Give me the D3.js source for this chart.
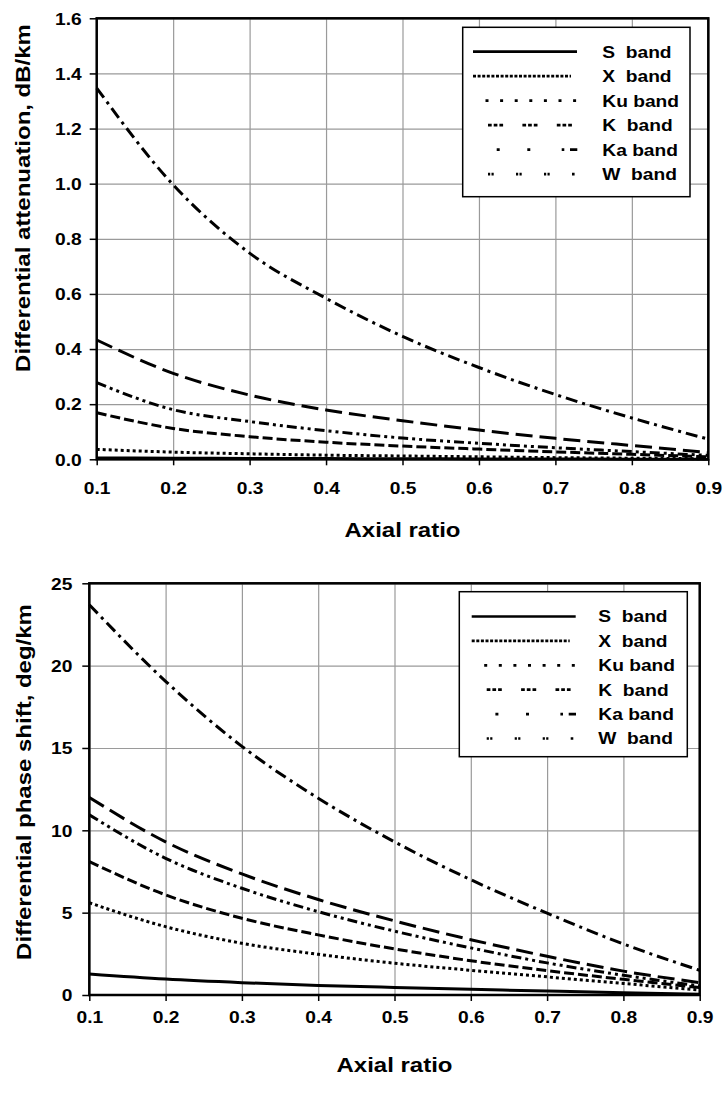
<!DOCTYPE html>
<html><head><meta charset="utf-8">
<script src="https://cdn.jsdelivr.net/npm/d3@7"></script>
<style>
html,body{margin:0;padding:0;background:#fff;}
svg{display:block;}
text{font-family:"Liberation Sans",Arial,sans-serif;font-weight:bold;fill:#000;white-space:pre;}
</style>
</head><body>
<svg id="c" width="725" height="1113"></svg>
<script>
// ---------------- data ----------------
const axialRatio = [0.1, 0.2, 0.3, 0.4, 0.5, 0.6, 0.7, 0.8, 0.9];
const bands = ["S", "X", "Ku", "K", "Ka", "W"];
const legendLabels = ["S  band", "X  band", "Ku band", "K  band", "Ka band", "W  band"];

// Differential attenuation, dB/km
const attS  = [0.005, 0.004, 0.003, 0.0025, 0.002, 0.0015, 0.001, 0.0006, 0.0003];
const attX  = [0.036, 0.026, 0.020, 0.015, 0.012, 0.009, 0.006, 0.004, 0.002];
const attKu = [0.169, 0.112, 0.082, 0.062, 0.048, 0.037, 0.027, 0.018, 0.009];
const attK  = [0.278, 0.180, 0.137, 0.104, 0.077, 0.058, 0.042, 0.028, 0.014];
const attKa = [0.433, 0.312, 0.233, 0.179, 0.140, 0.106, 0.076, 0.050, 0.025];
const attW  = [1.347, 0.996, 0.748, 0.584, 0.446, 0.333, 0.235, 0.150, 0.073];

// Differential phase shift, deg/km
const phS  = [1.28, 0.97, 0.75, 0.58, 0.46, 0.35, 0.24, 0.14, 0.05];
const phX  = [5.6, 4.15, 3.14, 2.47, 1.93, 1.50, 1.10, 0.70, 0.30];
const phKu = [8.1, 6.08, 4.66, 3.65, 2.80, 2.08, 1.48, 0.95, 0.45];
const phK  = [10.94, 8.3, 6.48, 5.06, 3.88, 2.86, 1.95, 1.20, 0.55];
const phKa = [12.0, 9.3, 7.35, 5.80, 4.50, 3.36, 2.35, 1.45, 0.75];
const phW  = [23.7, 19.05, 15.1, 11.95, 9.30, 7.0, 4.97, 3.10, 1.50];

const xTickValues = [0.1, 0.2, 0.3, 0.4, 0.5, 0.6, 0.7, 0.8, 0.9];
const yTicksAtt = [0, 0.2, 0.4, 0.6, 0.8, 1.0, 1.2, 1.4, 1.6];
const yTicksPhase = [0, 5, 10, 15, 20, 25];
const xTitle = "Axial ratio";
const yTitleAtt = "Differential attenuation, dB/km";
const yTitlePhase = "Differential phase shift, deg/km";

// ---------------- styles ----------------
const SX = 1.2; // horizontal text stretch of the original
const curveDash = {S: null, X: "3,3", Ku: "10,4", K: "10,4,3,4,3,4", Ka: "17,7", W: "12,5,3,5"};
const legendSample = {
  S:  {off: 0,    len: 104,  dash: null},
  X:  {off: 0,    len: 98,   dash: "3,1.6"},
  Ku: {off: 12.5, len: 90.6, dash: "3,11.6"},
  K:  {off: 15,   len: 84,   dash: "3.7,2,3.7,2,3.7,19.3"},
  Ka: {off: 23.7, len: 80.6, dash: "3,27.6,3,31.4,2.6,5.7,7.3,100"},
  W:  {off: 15,   len: 86.6, dash: "2.2,1.3,2.2,22.3,2.2,1.3,2.2,22.3,2.2,1.3,2.2,22.3,2.6,100"}
};

const svg = d3.select("#c");

function sText(g, s, x, y, size, anchor, rot) {
  const gg = g.append("g").attr("transform",
    `translate(${x},${y})` + (rot ? ` rotate(${rot})` : "") + ` scale(${SX},1)`);
  gg.append("text").attr("text-anchor", anchor).style("font-size", size + "px").text(s);
  return gg;
}

function drawChart(cfg) {
  const g = svg.append("g");
  const x = d3.scaleLinear().domain([0.1, 0.9]).range([cfg.left, cfg.right]);
  const y = d3.scaleLinear().domain(cfg.yDomain).range([cfg.bottom, cfg.top]);
  const W = cfg.right - cfg.left, H = cfg.bottom - cfg.top;

  // grid
  const gx = g.append("g").attr("transform", `translate(0,${cfg.top})`)
    .call(d3.axisBottom(x).tickValues(xTickValues).tickSize(H).tickFormat(""));
  const gy = g.append("g").attr("transform", `translate(${cfg.left},0)`)
    .call(d3.axisLeft(y).tickValues(cfg.yTicks).tickSize(-W).tickFormat(""));
  [gx, gy].forEach(a => {
    a.select(".domain").remove();
    a.selectAll("line").attr("stroke", "#9a9a9a").attr("stroke-width", 1.2);
  });

  // curves
  const line = d3.line().x(d => x(d[0])).y(d => y(d[1])).curve(d3.curveMonotoneX);
  cfg.series.forEach((vals, i) => {
    const b = bands[i];
    g.append("path")
      .datum(axialRatio.map((r, j) => [r, vals[j]]))
      .attr("d", line)
      .attr("fill", "none")
      .attr("stroke", "#000")
      .attr("stroke-width", 3)
      .attr("stroke-dasharray", curveDash[b]);
  });

  // axes ticks + labels
  const ax = g.append("g").attr("transform", `translate(0,${cfg.bottom})`)
    .call(d3.axisBottom(x).tickValues(xTickValues).tickSize(6).tickFormat(d3.format(".1f")));
  ax.select(".domain").remove();
  ax.selectAll("line").attr("stroke", "#000").attr("stroke-width", 1.5);
  ax.selectAll("text").attr("y", cfg.xLabelDy).attr("dy", 0)
    .attr("transform", `scale(${SX},1)`).attr("fill", "#000")
    .style("font-size", "16px").style("font-family", null).attr("font-family", null);

  const ay = g.append("g").attr("transform", `translate(${cfg.left},0)`)
    .call(d3.axisLeft(y).tickValues(cfg.yTicks).tickSize(7).tickFormat(d3.format(cfg.yFmt)));
  ay.select(".domain").remove();
  ay.selectAll("line").attr("stroke", "#000").attr("stroke-width", 1.5);
  ay.selectAll("text").attr("x", -cfg.yLabelGap / SX).attr("dy", "0.36em")
    .attr("transform", `scale(${SX},1)`).attr("fill", "#000")
    .style("font-size", "16px");
  g.selectAll(".tick text").attr("font-size", null).attr("font-family", null);

  // frame
  g.append("rect").attr("x", cfg.left).attr("y", cfg.top).attr("width", W).attr("height", H)
    .attr("fill", "none").attr("stroke", "#000").attr("stroke-width", 2.5);

  // titles
  sText(g, xTitle, (cfg.left + cfg.right) / 2, cfg.xTitleY, 20, "middle");
  sText(g, cfg.yTitle, cfg.yTitleX, cfg.yTitleY, 20, "middle", -90);

  // legend
  const L = cfg.legend;
  g.append("rect").attr("x", L.x).attr("y", L.y).attr("width", L.w).attr("height", L.h)
    .attr("fill", "#fff").attr("stroke", "#000").attr("stroke-width", 1.5);
  bands.forEach((b, i) => {
    const ry = L.row0 + i * L.step;
    const s = legendSample[b];
    g.append("line")
      .attr("x1", L.sx + s.off).attr("x2", L.sx + s.off + s.len)
      .attr("y1", ry).attr("y2", ry)
      .attr("stroke", "#000").attr("stroke-width", 2.7)
      .attr("stroke-dasharray", s.dash);
    sText(g, legendLabels[i], L.tx, ry + 5.8, 16, "start");
  });
}

drawChart({
  left: 96.7, right: 708.3, top: 18.3, bottom: 459.3,
  yDomain: [0, 1.6], yTicks: yTicksAtt, yFmt: ".1f", yLabelGap: 15,
  xLabelDy: 35, xTitleY: 537, yTitle: yTitleAtt, yTitleX: 30, yTitleY: 198,
  series: [attS, attX, attKu, attK, attKa, attW],
  legend: {x: 462.7, y: 27.3, w: 227.3, h: 169.4, sx: 473, tx: 602.3, row0: 51.7, step: 24.5}
});

drawChart({
  left: 89.3, right: 699.7, top: 583.3, bottom: 995,
  yDomain: [0, 25], yTicks: yTicksPhase, yFmt: "d", yLabelGap: 17,
  xLabelDy: 28, xTitleY: 1072, yTitle: yTitlePhase, yTitleX: 31, yTitleY: 782,
  series: [phS, phX, phKu, phK, phKa, phW],
  legend: {x: 459.3, y: 591.7, w: 228, h: 165, sx: 471.7, tx: 598.3, row0: 616.5, step: 24.4}
});
</script>
</body></html>
